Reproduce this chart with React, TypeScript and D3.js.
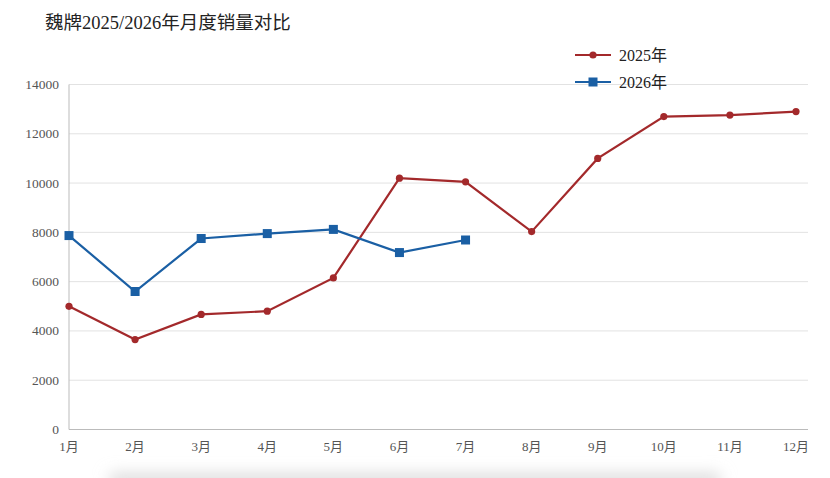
import * as d3 from "d3";
import React, { useEffect, useRef } from "react";

const months = ["1月", "2月", "3月", "4月", "5月", "6月", "7月", "8月", "9月", "10月", "11月", "12月"];
const sales2025 = [5000, 3650, 4670, 4800, 6150, 10200, 10050, 8030, 11000, 12700, 12760, 12900];
const sales2026 = [7870, 5600, 7750, 7950, 8120, 7180, 7690];
const yTicks = [0, 2000, 4000, 6000, 8000, 10000, 12000, 14000];

const RED = "#a3292b";
const BLUE = "#1a5fa4";
const FONT = "Liberation Serif, Times New Roman, Times, DejaVu Serif, Noto Sans CJK SC, serif";

const App: React.FC = () => {
  const svgRef = useRef<SVGSVGElement | null>(null);

  useEffect(() => {
    const svg = d3.select(svgRef.current);
    svg.selectAll("*").remove();
    const width = 830;
    const height = 478;
    const left = 69;
    const right = 808;
    const top = 84.5;
    const bottom = 429.5;

    const x = d3.scalePoint<string>().domain(months).range([left, 796]);
    const y = d3.scaleLinear().domain([0, 14000]).range([bottom, top]);

    // bottom shadow
    const defs = svg.append("defs");
    defs
      .append("filter")
      .attr("id", "blur")
      .attr("x", "-20%")
      .attr("y", "-200%")
      .attr("width", "140%")
      .attr("height", "500%")
      .append("feGaussianBlur")
      .attr("stdDeviation", 8);
    svg
      .append("rect")
      .attr("x", 110)
      .attr("y", 474)
      .attr("width", 610)
      .attr("height", 14)
      .attr("fill", "#d8d8d8")
      .attr("filter", "url(#blur)");

    // title
    svg
      .append("text")
      .attr("x", 45)
      .attr("y", 29)
      .style("font-family", FONT)
      .attr("font-size", 18.5)
      .attr("fill", "#222")
      .text("魏牌2025/2026年月度销量对比");

    // grid
    svg
      .append("g")
      .selectAll("line")
      .data(yTicks.filter((d) => d > 0))
      .join("line")
      .attr("x1", left)
      .attr("x2", right)
      .attr("y1", (d) => y(d))
      .attr("y2", (d) => y(d))
      .attr("stroke", "#e2e2e2")
      .attr("stroke-width", 1);

    // axes lines
    svg
      .append("line")
      .attr("x1", left)
      .attr("x2", left)
      .attr("y1", top)
      .attr("y2", bottom)
      .attr("stroke", "#bbb");
    svg
      .append("line")
      .attr("x1", left)
      .attr("x2", right)
      .attr("y1", bottom)
      .attr("y2", bottom)
      .attr("stroke", "#bbb");

    // y labels
    svg
      .append("g")
      .selectAll("text")
      .data(yTicks)
      .join("text")
      .attr("x", 59)
      .attr("y", (d) => y(d) + 4.5)
      .attr("text-anchor", "end")
      .style("font-family", FONT)
      .attr("font-size", 13.5)
      .attr("fill", "#555")
      .text((d) => d);

    // x labels
    svg
      .append("g")
      .selectAll("text")
      .data(months)
      .join("text")
      .attr("x", (d) => x(d)!)
      .attr("y", 451)
      .attr("text-anchor", "middle")
      .style("font-family", FONT)
      .attr("font-size", 13)
      .attr("fill", "#555")
      .text((d) => d);

    const line = d3
      .line<number>()
      .x((_, i) => x(months[i])!)
      .y((d) => y(d));

    // 2025
    svg
      .append("path")
      .datum(sales2025)
      .attr("d", line)
      .attr("fill", "none")
      .attr("stroke", RED)
      .attr("stroke-width", 2.2);
    svg
      .append("g")
      .selectAll("circle")
      .data(sales2025)
      .join("circle")
      .attr("cx", (_, i) => x(months[i])!)
      .attr("cy", (d) => y(d))
      .attr("r", 3.6)
      .attr("fill", RED);

    // 2026
    svg
      .append("path")
      .datum(sales2026)
      .attr("d", line)
      .attr("fill", "none")
      .attr("stroke", BLUE)
      .attr("stroke-width", 2.2);
    svg
      .append("g")
      .selectAll("rect")
      .data(sales2026)
      .join("rect")
      .attr("x", (_, i) => x(months[i])! - 4.5)
      .attr("y", (d) => y(d) - 4.5)
      .attr("width", 9)
      .attr("height", 9)
      .attr("fill", BLUE);

    // legend
    const legend = [
      { name: "2025年", color: RED, shape: "circle" },
      { name: "2026年", color: BLUE, shape: "square" },
    ];
    const lg = svg
      .append("g")
      .selectAll("g")
      .data(legend)
      .join("g")
      .attr("transform", (_, i) => `translate(575, ${55 + i * 27})`);
    lg.append("line")
      .attr("x1", 0)
      .attr("x2", 36)
      .attr("stroke", (d) => d.color)
      .attr("stroke-width", 2.2);
    lg.filter((d) => d.shape === "circle")
      .append("circle")
      .attr("cx", 18)
      .attr("r", 3.6)
      .attr("fill", (d) => d.color);
    lg.filter((d) => d.shape === "square")
      .append("rect")
      .attr("x", 13.5)
      .attr("y", -4.5)
      .attr("width", 9)
      .attr("height", 9)
      .attr("fill", (d) => d.color);
    lg.append("text")
      .attr("x", 44)
      .attr("y", 5.5)
      .style("font-family", FONT)
      .attr("font-size", 16)
      .attr("fill", "#222")
      .text((d) => d.name);

    svg.attr("width", width).attr("height", height);
  }, []);

  return (
    <div style={{ position: "fixed", left: 0, top: 0, width: 830, height: 478, background: "#fff" }}>
      <svg ref={svgRef} width={830} height={478} style={{ display: "block" }} />
    </div>
  );
};

export default App;
